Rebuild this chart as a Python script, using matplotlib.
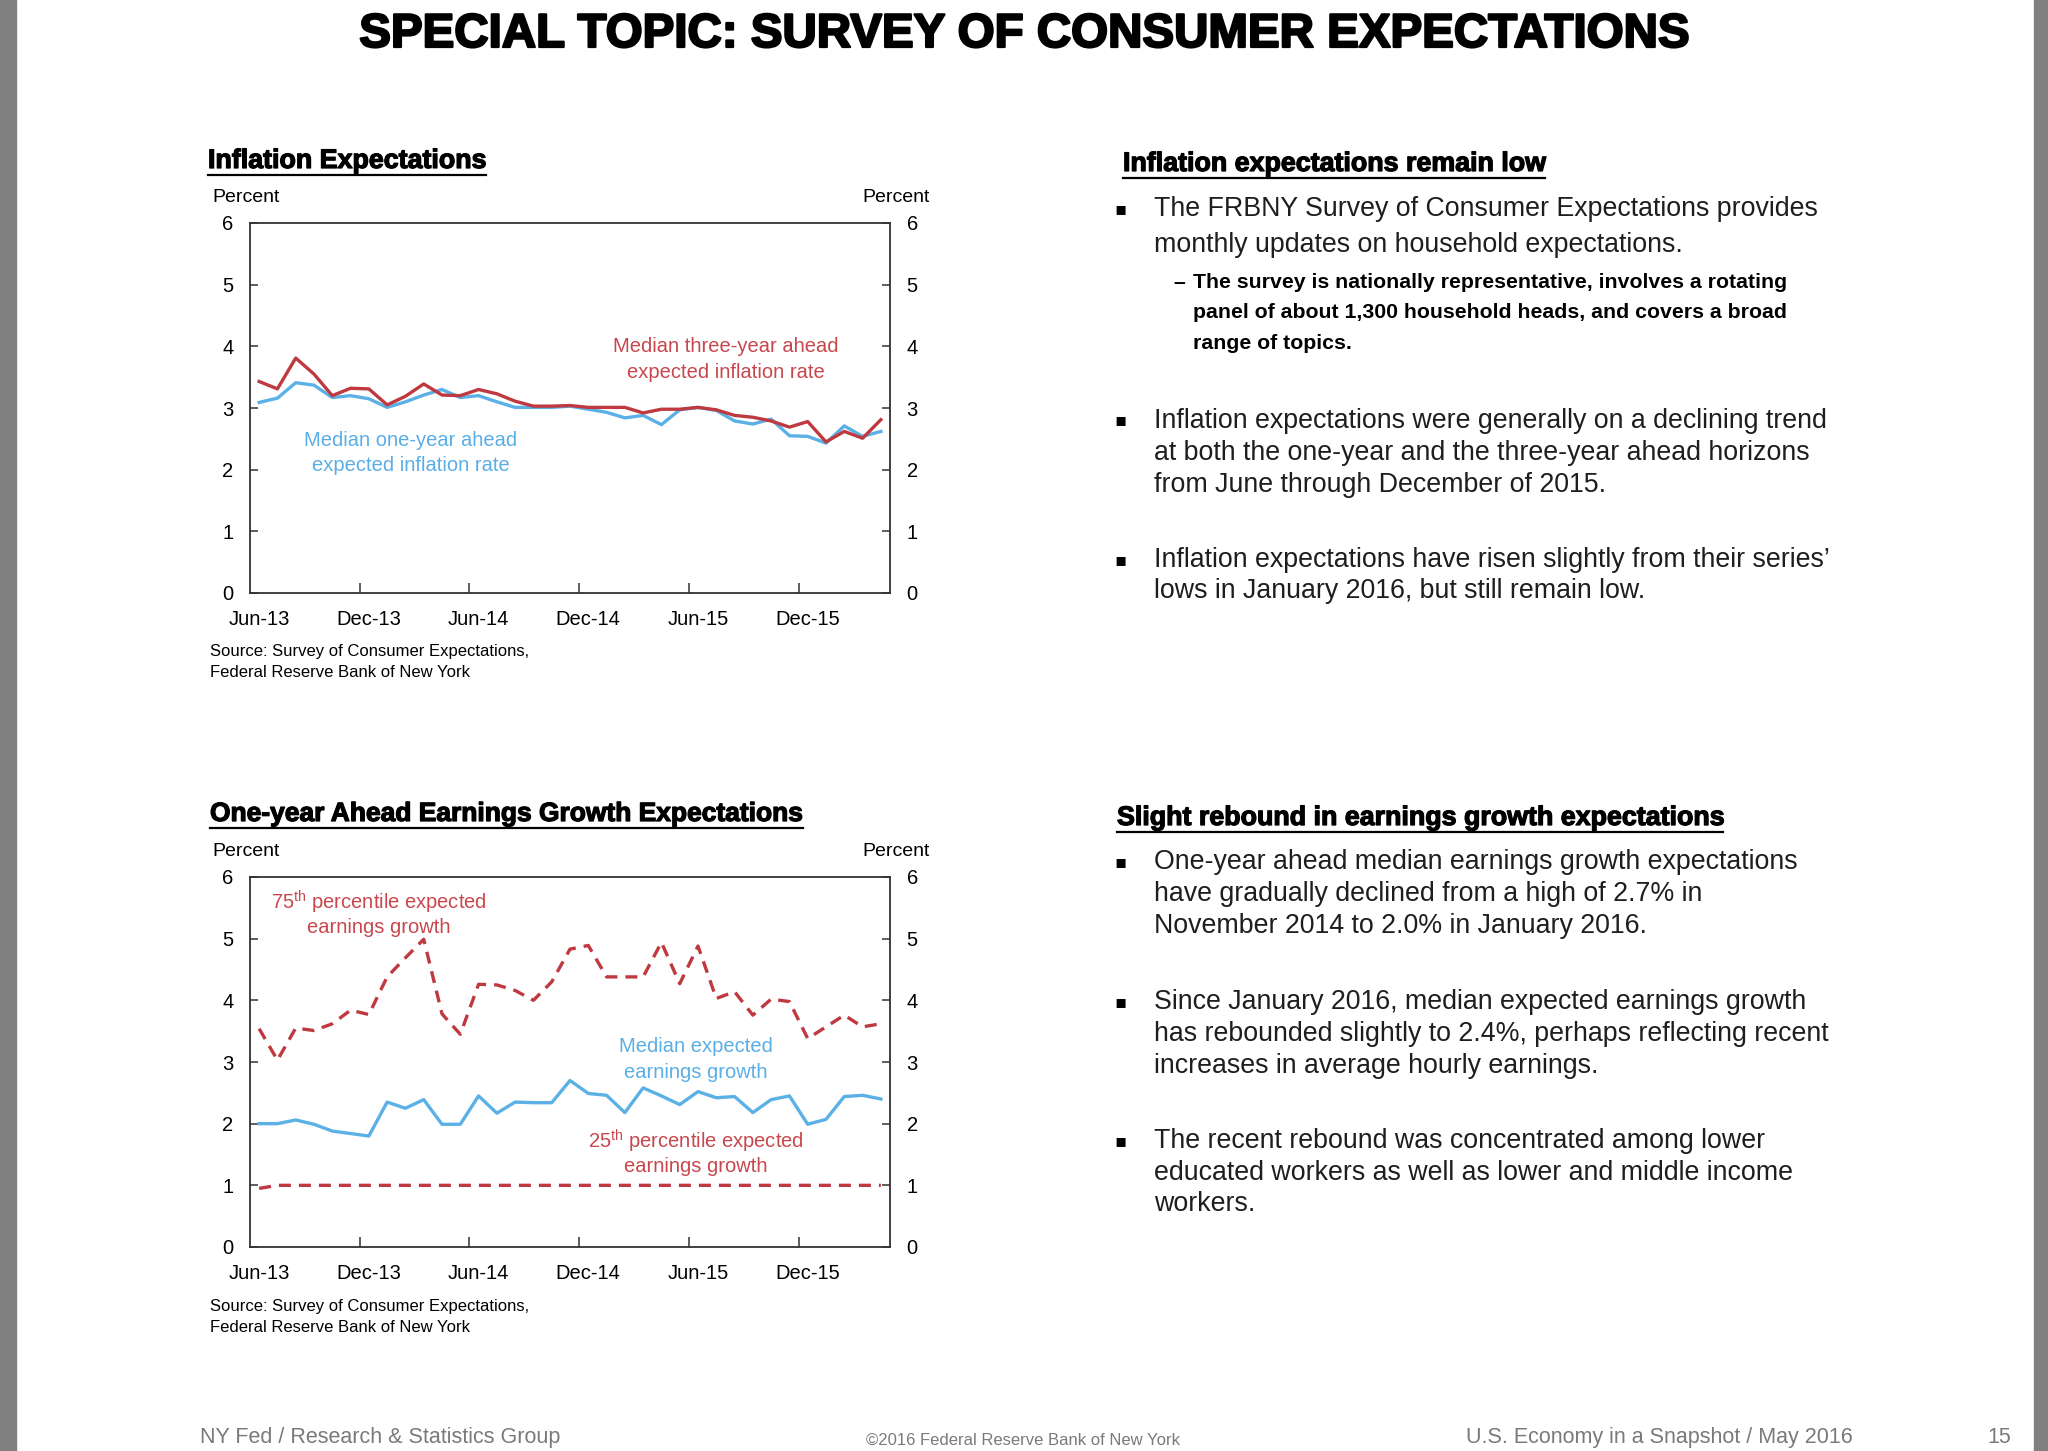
import numpy as np
import pandas as pd
import matplotlib
matplotlib.use("Agg")
import matplotlib.pyplot as plt
import matplotlib.patheffects as pe
from matplotlib.lines import Line2D
from matplotlib.patches import Rectangle

# ---------------- data ----------------
months = list(pd.date_range("2013-06-01", periods=35, freq="MS").strftime("%b-%y"))
tick_labels = ["Jun-13", "Dec-13", "Jun-14", "Dec-14", "Jun-15", "Dec-15"]

infl_1yr = [3.09, 3.16, 3.41, 3.37, 3.17, 3.20, 3.15, 3.01, 3.10, 3.21,
            3.30, 3.17, 3.20, 3.10, 3.01, 3.01, 3.01, 3.03, 2.98, 2.93,
            2.84, 2.88, 2.73, 2.97, 3.01, 2.96, 2.79, 2.74, 2.82, 2.55,
            2.54, 2.43, 2.71, 2.54, 2.62]
infl_3yr = [3.43, 3.31, 3.81, 3.55, 3.20, 3.32, 3.31, 3.05, 3.19, 3.39,
            3.21, 3.20, 3.30, 3.23, 3.11, 3.03, 3.03, 3.04, 3.01, 3.01,
            3.01, 2.92, 2.98, 2.98, 3.01, 2.97, 2.88, 2.85, 2.79, 2.69,
            2.78, 2.45, 2.62, 2.51, 2.81]

earn_median = [2.00, 2.00, 2.06, 1.99, 1.88, 1.84, 1.80, 2.35, 2.25, 2.39,
               1.99, 1.99, 2.45, 2.17, 2.35, 2.34, 2.34, 2.70, 2.49, 2.46,
               2.18, 2.58, 2.45, 2.31, 2.52, 2.42, 2.44, 2.18, 2.39, 2.45,
               1.99, 2.07, 2.44, 2.46, 2.40]
earn_p75 = [3.54, 3.03, 3.55, 3.51, 3.62, 3.84, 3.77, 4.38, 4.69, 4.99,
            3.78, 3.45, 4.26, 4.25, 4.16, 4.00, 4.30, 4.83, 4.89, 4.38,
            4.38, 4.38, 4.94, 4.27, 4.88, 4.03, 4.14, 3.76, 4.02, 3.98,
            3.38, 3.57, 3.76, 3.57, 3.62]
earn_p25 = [0.95, 1.00, 1.00, 1.00, 1.00, 1.00, 1.00, 1.00, 1.00, 1.00,
            1.00, 1.00, 1.00, 1.00, 1.00, 1.00, 1.00, 1.00, 1.00, 1.00,
            1.00, 1.00, 1.00, 1.00, 1.00, 1.00, 1.00, 1.00, 1.00, 1.00,
            1.00, 1.00, 1.00, 1.00, 1.00]

# ---------------- style ----------------
W, H = 2048, 1451
RED = "#BE3A40"
RED_T = "#C8474D"
BLUE = "#5BB1E6"
BLUE_T = "#5AAEE6"
BODY = ["Liberation Sans", "DejaVu Sans"]
NARROW = ["Liberation Sans Narrow", "Liberation Sans", "DejaVu Sans"]
plt.rcParams["font.family"] = BODY

fig = plt.figure(figsize=(W / 100, H / 100), dpi=100)
fig.patch.set_facecolor("white")


def fx(x):
    return x / W


def fy(y):
    return 1 - y / H


def txt(x, y, s, **kw):
    return fig.text(fx(x), fy(y), s, **kw)


# grey page margins
fig.add_artist(Rectangle((0, 0), fx(16), 1, transform=fig.transFigure,
                         color="#808080", zorder=0))
fig.add_artist(Rectangle((fx(2034), 0), fx(14), 1, transform=fig.transFigure,
                         color="#808080", zorder=0))

# title
txt(1024, 35, "SPECIAL TOPIC: SURVEY OF CONSUMER EXPECTATIONS", ha="center",
    va="center", fontsize=34.2, fontweight="bold", color="black",
    path_effects=[pe.withStroke(linewidth=1.6, foreground="black")])

HFS = 19.3
hstroke = [pe.withStroke(linewidth=0.9, foreground="black")]
headings = []
headings.append(txt(208, 168, "Inflation Expectations", ha="left", va="baseline",
                    fontsize=HFS, fontweight="bold", family=NARROW,
                    path_effects=hstroke))
headings.append(txt(1123, 171, "Inflation expectations remain low", ha="left",
                    va="baseline", fontsize=HFS, fontweight="bold", family=NARROW,
                    path_effects=hstroke))
headings.append(txt(210, 821, "One-year Ahead Earnings Growth Expectations", ha="left",
                    va="baseline", fontsize=HFS - 0.3, fontweight="bold",
                    family=NARROW, path_effects=hstroke))
headings.append(txt(1117, 825, "Slight rebound in earnings growth expectations",
                    ha="left", va="baseline", fontsize=HFS, fontweight="bold",
                    family=NARROW, path_effects=hstroke))

x = np.arange(len(months))
label_pos = [months.index(pd.to_datetime(t, format="%b-%y").strftime("%b-%y"))
             for t in tick_labels]


def setup_axis(ax):
    ax.set_xlim(-0.5, len(months) - 0.5)
    ax.set_ylim(0, 6)
    ax.set_yticks(range(0, 7))
    for sp in ax.spines.values():
        sp.set_color("#333333")
        sp.set_linewidth(1.3)
    ax.tick_params(axis="y", which="both", direction="in", length=6, width=1.1,
                   color="#333333", left=True, right=True, labelleft=True,
                   labelright=True, labelsize=14.5, pad=12)
    ax.set_xticks([p - 0.5 for p in label_pos[1:]])
    ax.set_xticklabels([])
    ax.set_xticks(label_pos, minor=True)
    ax.set_xticklabels(tick_labels, minor=True)
    ax.tick_params(axis="x", which="major", direction="in", length=7, width=1.1,
                   color="#333333")
    ax.tick_params(axis="x", which="minor", length=0, labelsize=14.5, pad=12)
    ax.set_facecolor("white")


# ---- top chart ----
ax1 = fig.add_axes([fx(250), fy(593), 640 / W, 370 / H])
setup_axis(ax1)
ax1.plot(x, infl_1yr, color=BLUE, lw=2.4, zorder=3)
ax1.plot(x, infl_3yr, color=RED, lw=2.4, zorder=4)

# ---- bottom chart ----
ax2 = fig.add_axes([fx(250), fy(1247), 640 / W, 370 / H])
setup_axis(ax2)
ax2.plot(x, earn_median, color=BLUE, lw=2.4, zorder=3)
ax2.plot(x, earn_p75, color=RED, lw=2.4, dashes=(3.6, 2.4), zorder=4)
ax2.plot(x, earn_p25, color=RED, lw=2.4, dashes=(3.6, 2.4), zorder=4)

for ytop in (198, 852):
    txt(212, ytop, "Percent", ha="left", va="center", fontsize=14)
    txt(930, ytop, "Percent", ha="right", va="center", fontsize=14)

for ys in (651, 1306):
    txt(210, ys, "Source: Survey of Consumer Expectations,", ha="left",
        va="center", fontsize=12)
    txt(210, ys + 21, "Federal Reserve Bank of New York", ha="left",
        va="center", fontsize=12)

# series annotations
txt(726, 347, "Median three-year ahead", ha="center", va="center", fontsize=14.5,
    color=RED_T)
txt(726, 372, "expected inflation rate", ha="center", va="center", fontsize=14.5,
    color=RED_T)
txt(411, 440, "Median one-year ahead", ha="center", va="center", fontsize=14.5,
    color=BLUE_T)
txt(411, 465, "expected inflation rate", ha="center", va="center", fontsize=14.5,
    color=BLUE_T)

txt(379, 902, r"75$^{\mathregular{th}}$ percentile expected", ha="center",
    va="center", fontsize=14.5, color=RED_T)
txt(379, 927, "earnings growth", ha="center", va="center", fontsize=14.5,
    color=RED_T)
txt(696, 1047, "Median expected", ha="center", va="center", fontsize=14.5,
    color=BLUE_T)
txt(696, 1072, "earnings growth", ha="center", va="center", fontsize=14.5,
    color=BLUE_T)
txt(696, 1141, r"25$^{\mathregular{th}}$ percentile expected", ha="center",
    va="center", fontsize=14.5, color=RED_T)
txt(696, 1166, "earnings growth", ha="center", va="center", fontsize=14.5,
    color=RED_T)

# right-hand bullet text
BX, TX = 1114, 1154
BODY_FS = 19.3
BODY_C = "#1e1e1e"


def bullet(lines, y0, step):
    txt(BX, y0, "\u25aa", ha="left", va="center", fontsize=13, color="black",
        family=["DejaVu Sans"])
    for i, ln in enumerate(lines):
        txt(TX, y0 + i * step, ln, ha="left", va="center", fontsize=BODY_FS,
            color=BODY_C)


bullet(["The FRBNY Survey of Consumer Expectations provides",
        "monthly updates on household expectations."], 209, 36.5)
txt(1173, 282, "\u2013", ha="left", va="center", fontsize=15.3,
    fontweight="bold", color="black")
for i, ln in enumerate(["The survey is nationally representative, involves a rotating",
                        "panel of about 1,300 household heads, and covers a broad",
                        "range of topics."]):
    txt(1193, 282 + i * 30.8, ln, ha="left", va="center", fontsize=15.3,
        fontweight="bold", color="black")

bullet(["Inflation expectations were generally on a declining trend",
        "at both the one-year and the three-year ahead horizons",
        "from June through December of 2015."], 420.5, 32)
bullet(["Inflation expectations have risen slightly from their series\u2019",
        "lows in January 2016, but still remain low."], 560, 30.5)

bullet(["One-year ahead median earnings growth expectations",
        "have gradually declined from a high of 2.7% in",
        "November 2014 to 2.0% in January 2016."], 862, 32)
bullet(["Since January 2016, median expected earnings growth",
        "has rebounded slightly to 2.4%, perhaps reflecting recent",
        "increases in average hourly earnings."], 1002, 32)
bullet(["The recent rebound was concentrated among lower",
        "educated workers as well as lower and middle income",
        "workers."], 1141, 31.5)

# footer
txt(200, 1448, "NY Fed / Research & Statistics Group", ha="left", va="bottom",
    fontsize=15.5, color="#7a7a7a")
txt(1023, 1448, "\u00a92016 Federal Reserve Bank of New York", ha="center",
    va="bottom", fontsize=12, color="#7a7a7a")
txt(1853, 1448, "U.S. Economy in a Snapshot / May 2016", ha="right", va="bottom",
    fontsize=15.5, color="#7a7a7a")
txt(2011, 1448, "15", ha="right", va="bottom", fontsize=15.5, color="#7a7a7a")

# underline headings
fig.canvas.draw()
r = fig.canvas.get_renderer()
for t in headings:
    bb = t.get_window_extent(r)
    ypix = t.get_position()[1] * H - 7
    fig.add_artist(Line2D([bb.x0 / W, bb.x1 / W], [ypix / H, ypix / H],
                          transform=fig.transFigure, color="black", lw=1.6))

fig.savefig("out.png", dpi=100, facecolor="white")
